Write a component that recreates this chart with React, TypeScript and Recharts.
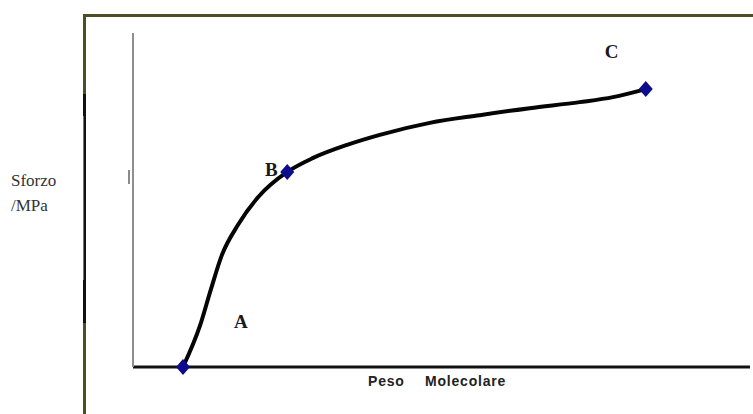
import React from 'react';
import { ComposedChart, Line, Scatter, XAxis, YAxis } from 'recharts';

// Stress vs molecular weight curve (arbitrary units, 0-100 on both axes)
const curveX = [8.1, 10.9, 12.6, 14.4, 17.0, 20.3, 25.0, 29.2, 34.7, 40.0, 48.1, 56.2, 64.3, 72.4, 77.8, 83.1];
const curveY = [0, 12.6, 23.1, 33.5, 42.5, 50.9, 58.4, 62.6, 66.5, 69.5, 73.1, 75.4, 77.5, 79.3, 80.8, 83.2];

// Marked points on the curve
const pointNames = ['A', 'B', 'C'];
const pointX = [8.1, 25.0, 83.1];
const pointY = [0, 58.4, 83.2];

const xAxisTitle = ['Peso', 'Molecolare'];
const yAxisTitle = ['Sforzo', '/MPa'];

const curveData = curveX.map((x, i) => ({ x, y: curveY[i] }));
const pointData = pointNames.map((name, i) => ({ name, x: pointX[i], y: pointY[i] }));

// Where each point's letter sits relative to the marker
const letterOffset: Record<string, [number, number]> = {
  A: [58, -46],
  B: [-16, -2],
  C: [-34, -38],
};

const W = 753;
const H = 414;

const Diamond = (props: any) => {
  const { cx, cy, payload } = props;
  if (cx == null || cy == null) return null;
  const [dx, dy] = letterOffset[payload.name] || [0, 0];
  return (
    <g>
      <polygon
        points={`${cx},${cy - 8} ${cx + 7},${cy} ${cx},${cy + 8} ${cx - 7},${cy}`}
        fill="#0c0c8c"
      />
      <text
        x={cx + dx}
        y={cy + dy}
        textAnchor="middle"
        dominantBaseline="central"
        fontFamily="'Liberation Serif', 'Times New Roman', serif"
        fontWeight="bold"
        fontSize={19}
        fill="#1a1a1a"
      >
        {payload.name}
      </text>
    </g>
  );
};

const XTitle = (props: any) => {
  const vb = props.viewBox || {};
  const y = (vb.y ?? 367) + 19;
  return (
    <text
      y={y}
      fontFamily="'Liberation Sans', Arial, sans-serif"
      fontWeight="bold"
      fontSize={14}
      letterSpacing={0.8}
      fill="#222"
    >
      <tspan x={368}>{xAxisTitle[0]}</tspan>
      <tspan x={425}>{xAxisTitle[1]}</tspan>
    </text>
  );
};

const YTitle = () => (
  <g>
    <text
      fontFamily="'Liberation Serif', 'Times New Roman', serif"
      fontSize={17}
      fill="#333"
    >
      <tspan x={11} y={186}>{yAxisTitle[0]}</tspan>
      <tspan x={11} y={211}>{yAxisTitle[1]}</tspan>
    </text>
    <line x1={129} y1={170} x2={129} y2={184} stroke="#8a8a8a" strokeWidth={2} />
  </g>
);

export default function App() {
  return (
    <div style={{ position: 'absolute', left: 0, top: 0, width: W, height: H, background: '#fff', overflow: 'hidden' }}>
      {/* outer frame */}
      <div style={{ position: 'absolute', left: 83, top: 14, width: W - 83, height: 3, background: '#4d4d26' }} />
      <div style={{ position: 'absolute', left: 83, top: 14, width: 3, height: H - 14, background: '#4d4d26' }} />
      <div style={{ position: 'absolute', left: 83, top: 94, width: 3, height: 22, background: '#111' }} />
      <div style={{ position: 'absolute', left: 83, top: 116, width: 3, height: 164, background: '#777' }} />
      <div style={{ position: 'absolute', left: 84, top: 116, width: 2, height: 164, background: '#111' }} />
      <div style={{ position: 'absolute', left: 83, top: 280, width: 3, height: 43, background: '#111' }} />
      <div style={{ position: 'absolute', left: 0, top: 0 }}>
        <ComposedChart
          width={W}
          height={H}
          margin={{ top: 33, right: 3, left: 129, bottom: 43 }}
        >
          <XAxis
            dataKey="x"
            type="number"
            domain={[0, 100]}
            height={4}
            tick={false}
            tickLine={false}
            axisLine={{ stroke: '#111', strokeWidth: 3 }}
            label={<XTitle />}
          />
          <YAxis
            dataKey="y"
            type="number"
            domain={[0, 100]}
            width={4}
            tick={false}
            tickLine={false}
            axisLine={{ stroke: '#8f8f8f', strokeWidth: 2 }}
            label={<YTitle />}
          />
          <Line
            data={curveData}
            dataKey="y"
            type="monotone"
            stroke="#050505"
            strokeWidth={4}
            dot={false}
            activeDot={false}
            isAnimationActive={false}
          />
          <Scatter
            data={pointData}
            dataKey="y"
            shape={<Diamond />}
            isAnimationActive={false}
          />
        </ComposedChart>
      </div>
    </div>
  );
}
